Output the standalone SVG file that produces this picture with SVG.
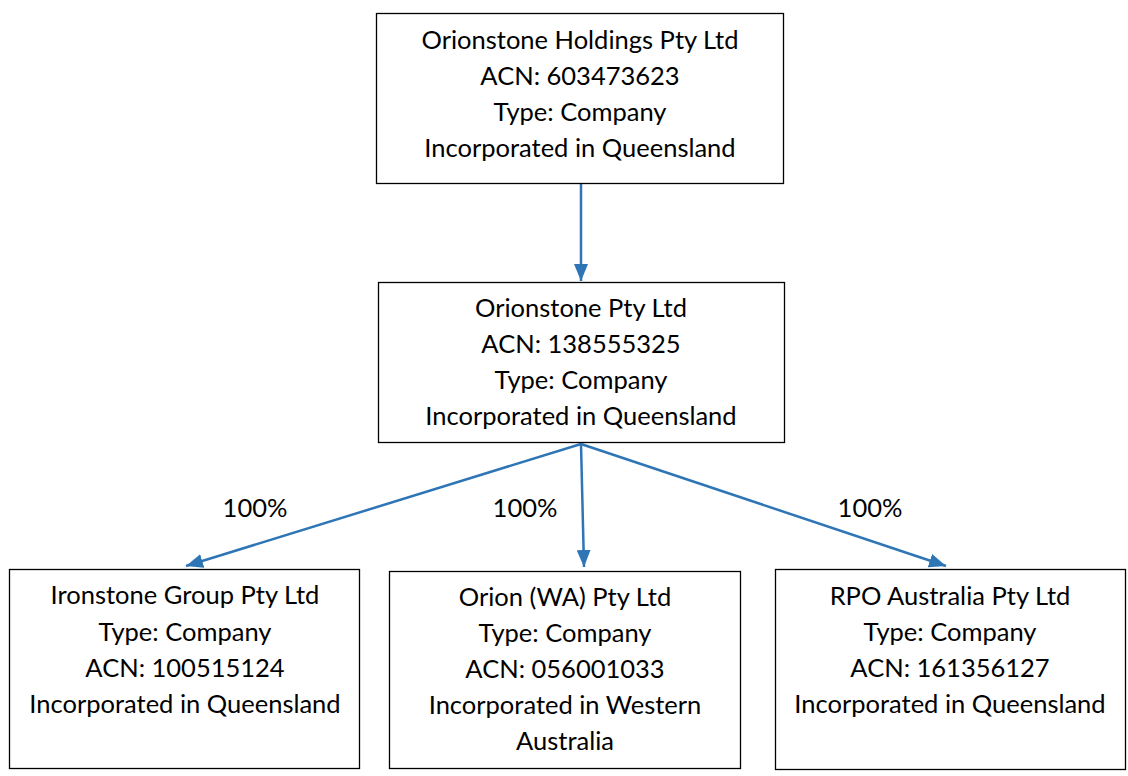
<svg xmlns="http://www.w3.org/2000/svg" width="1128" height="776" viewBox="0 0 1128 776">
<style>
.box{fill:#fff;stroke:#000;stroke-width:1.3}
.t{font-family:Lato,"Liberation Sans",sans-serif;font-size:25.5px;fill:#000;text-anchor:middle}
.c{stroke:#2E75B6;stroke-width:2.5;fill:none;marker-end:url(#ah)}
</style>
<defs>
<marker id="ah" markerUnits="userSpaceOnUse" markerWidth="18" markerHeight="14" refX="17" refY="7" orient="auto">
<path d="M0,0 L17,7 L0,14 Z" fill="#2E75B6"/>
</marker>
</defs>
<rect width="1128" height="776" fill="#fff"/>
<g id="connectors">
<line class="c" x1="581" y1="184" x2="581" y2="281"/>
<line class="c" x1="581" y1="444" x2="186" y2="566"/>
<line class="c" x1="581" y1="444" x2="584" y2="567"/>
<line class="c" x1="581" y1="444" x2="946" y2="566"/>
<text class="t" x="255" y="517">100%</text>
<text class="t" x="525" y="517">100%</text>
<text class="t" x="870" y="517">100%</text>
</g>
<g id="n1">
<rect class="box" x="376.5" y="13.5" width="407" height="170"/>
<text class="t" x="580" y="49">Orionstone Holdings Pty Ltd</text>
<text class="t" x="580" y="85">ACN: 603473623</text>
<text class="t" x="580" y="121">Type: Company</text>
<text class="t" x="580" y="157">Incorporated in Queensland</text>
</g>
<g id="n2">
<rect class="box" x="378.5" y="282.5" width="406" height="160"/>
<text class="t" x="581" y="317">Orionstone Pty Ltd</text>
<text class="t" x="581" y="353">ACN: 138555325</text>
<text class="t" x="581" y="389">Type: Company</text>
<text class="t" x="581" y="425">Incorporated in Queensland</text>
</g>
<g id="n3">
<rect class="box" x="9.5" y="569.5" width="350" height="199"/>
<text class="t" x="185" y="604">Ironstone Group Pty Ltd</text>
<text class="t" x="185" y="641">Type: Company</text>
<text class="t" x="185" y="677">ACN: 100515124</text>
<text class="t" x="185" y="713">Incorporated in Queensland</text>
</g>
<g id="n4">
<rect class="box" x="389.5" y="571.5" width="351" height="197"/>
<text class="t" x="565" y="606">Orion (WA) Pty Ltd</text>
<text class="t" x="565" y="642">Type: Company</text>
<text class="t" x="565" y="678">ACN: 056001033</text>
<text class="t" x="565" y="714">Incorporated in Western</text>
<text class="t" x="565" y="750">Australia</text>
</g>
<g id="n5">
<rect class="box" x="775.5" y="569.5" width="350" height="200"/>
<text class="t" x="950" y="605">RPO Australia Pty Ltd</text>
<text class="t" x="950" y="641">Type: Company</text>
<text class="t" x="950" y="677">ACN: 161356127</text>
<text class="t" x="950" y="713">Incorporated in Queensland</text>
</g>
</svg>
